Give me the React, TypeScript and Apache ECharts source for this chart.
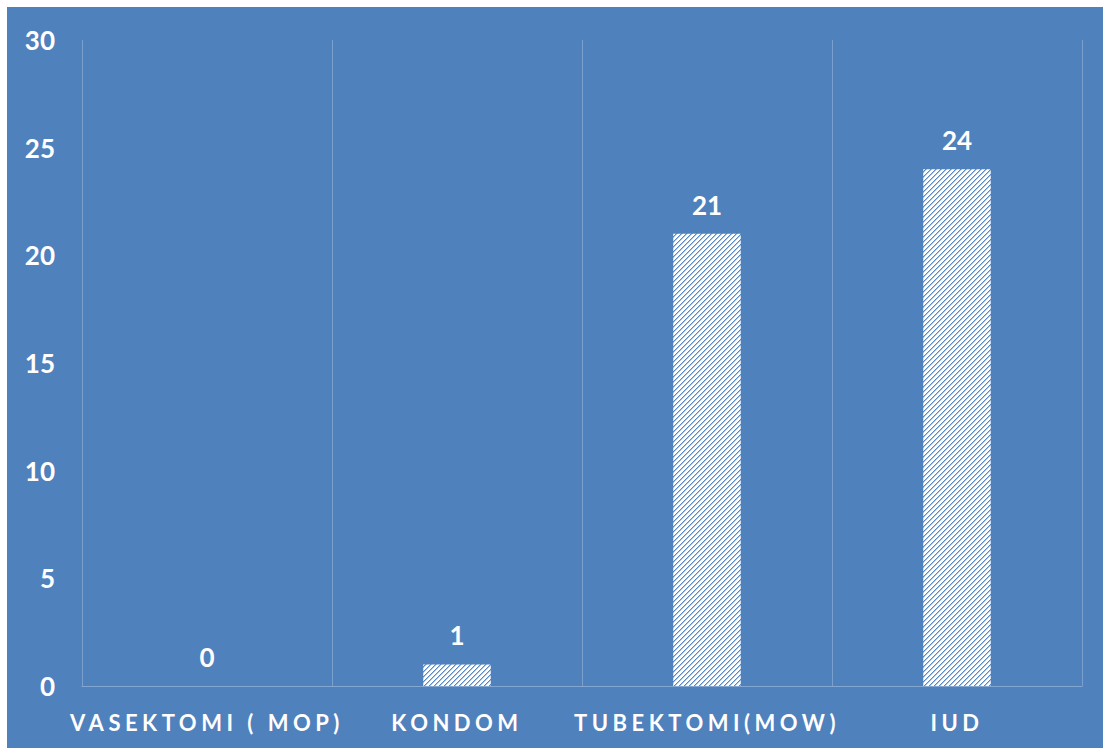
import React, { useEffect, useRef } from "react";
import * as echarts from "echarts";

const categories = ["VASEKTOMI ( MOP)", "KONDOM", "TUBEKTOMI(MOW)", "IUD"];
const values = [0, 1, 21, 24];
const yMin = 0;
const yMax = 30;
const yStep = 5;

const BG = "#4f81bd";

function makeHatch(): HTMLCanvasElement {
  const c = document.createElement("canvas");
  const n = 5;
  c.width = n;
  c.height = n;
  const ctx = c.getContext("2d")!;
  const img = ctx.createImageData(n, n);
  for (let y = 0; y < n; y++) {
    for (let x = 0; x < n; x++) {
      const d = (x + y) % n;
      let r = 255, g = 255, b = 255;
      if (d === 0) { r = 90; g = 138; b = 196; }
      else if (d === 1) { r = 170; g = 196; b = 228; }
      const i = (y * n + x) * 4;
      img.data[i] = r; img.data[i + 1] = g; img.data[i + 2] = b; img.data[i + 3] = 255;
    }
  }
  ctx.putImageData(img, 0, 0);
  return c;
}

export default function App() {
  const ref = useRef<HTMLDivElement>(null);
  useEffect(() => {
    if (!ref.current) return;
    const chart = echarts.init(ref.current, undefined, { renderer: "svg" });
    const hatch = makeHatch();
    const font = "Lato";
    chart.setOption({
      animation: false,
      backgroundColor: BG,
      grid: { left: 75, right: 21, top: 33, bottom: 62, containLabel: false },
      xAxis: {
        type: "category",
        data: categories,
        boundaryGap: true,
        axisLine: { show: true, lineStyle: { color: "rgba(255,255,255,0.3)", width: 1 } },
        axisTick: { show: false },
        splitLine: { show: true, lineStyle: { color: "rgba(255,255,255,0.25)", width: 1 } },
        axisLabel: {
          color: "#ffffff",
          fontFamily: font,
          fontWeight: "bold",
          fontSize: 22,
          margin: 25,
          interval: 0,
        },
      },
      yAxis: {
        type: "value",
        min: yMin,
        max: yMax,
        interval: yStep,
        axisLine: { show: false },
        axisTick: { show: false },
        splitLine: { show: false },
        axisLabel: {
          color: "#ffffff",
          fontFamily: font,
          fontWeight: "bold",
          fontSize: 26,
          margin: 27,
        },
      },
      series: [
        {
          type: "bar",
          data: values,
          barWidth: "27%",
          itemStyle: { color: { image: hatch, repeat: "repeat" } as any },
          label: {
            show: true,
            position: "top",
            distance: 16,
            color: "#ffffff",
            fontFamily: font,
            fontWeight: "bold",
            fontSize: 26,
          },
        },
      ],
    });
    return () => chart.dispose();
  }, []);
  return (
    <>
      <style>{`.chartbox text[style*="22px"]{letter-spacing:4.5px;}`}</style>
      <div
        ref={ref}
        className="chartbox"
        style={{ position: "fixed", left: 7, top: 7, width: 1096, height: 741 }}
      />
    </>
  );
}
